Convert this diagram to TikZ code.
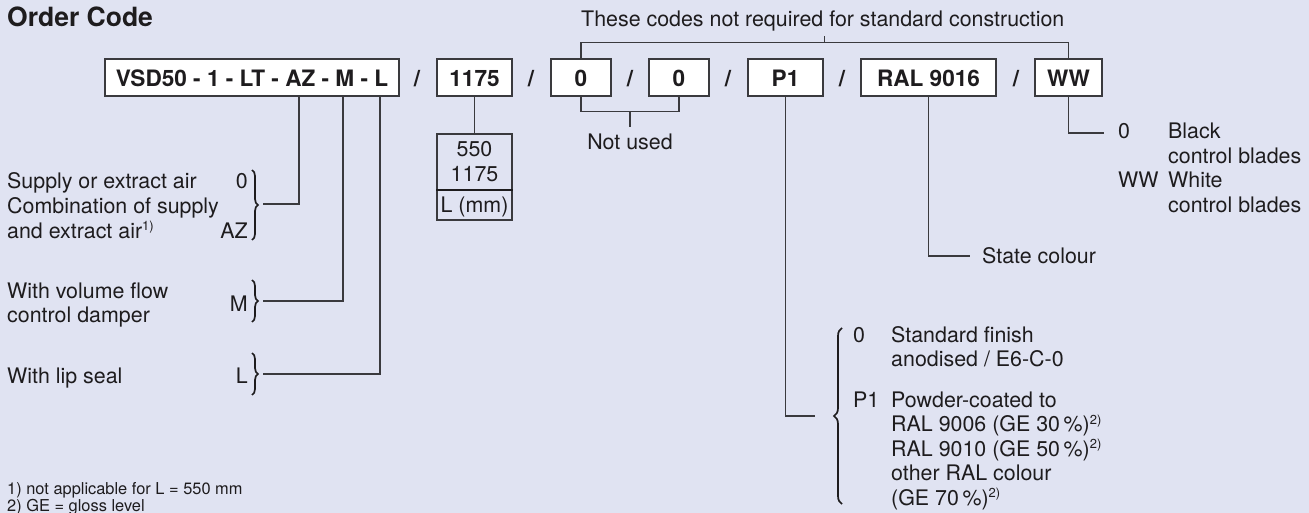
\documentclass[tikz,border=0pt]{standalone}
\usepackage{fontspec}
\setmainfont{TeX Gyre Heros}
\usetikzlibrary{calc,decorations.pathreplacing}
\definecolor{bg}{RGB}{224,227,242}
\definecolor{ink}{RGB}{30,28,30}
\definecolor{ln}{RGB}{58,58,62}
\newcommand{\supnote}[1]{\raisebox{7.5pt}{\fontsize{13}{13}\selectfont #1}}
\begin{document}
\begin{tikzpicture}[x=1pt,y=-1pt,
  txt/.style={anchor=base west, inner sep=0pt, text=ink, font=\fontsize{21.4}{24.5}\selectfont},
  txtr/.style={txt, anchor=base east},
  txtc/.style={txt, anchor=base},
  foot/.style={txt, font=\fontsize{16.4}{20}\selectfont},
  ttl/.style={anchor=base west, inner sep=0pt, text=ink, font=\fontsize{26.5}{30}\selectfont\bfseries},
  codebox/.style={draw=ln, line width=1.3pt, fill=white, minimum height=37pt, inner sep=0pt,
    text height=18pt, text depth=0pt, text=ink, font=\fontsize{22.6}{26}\selectfont\bfseries},
  slash/.style={inner sep=0pt, text height=18pt, text depth=0pt, text=ink, font=\fontsize{22.6}{26}\selectfont\bfseries},
  conn/.style={draw=ln, line width=1.2pt},
  br/.style={draw=ink, line width=1.7pt, decorate, decoration={brace, amplitude=6pt}},
]
\useasboundingbox[fill=bg] (0,0) rectangle (1309,513);

% title
\node[ttl] (title) at (7,27) {Order Code};

% code boxes and slashes
\node[codebox, minimum width=294pt] (b1) at (252,77.5) {VSD50 - 1 - LT - AZ - M - L};
\node[slash] (s1) at (417,77.5) {/};
\node[codebox, minimum width=75pt] (b2) at (474.5,77.5) {1175};
\node[slash] (s2) at (531,77.5) {/};
\node[codebox, minimum width=60pt] (b3) at (581,77.5) {0};
\node[slash] (s3) at (630,77.5) {/};
\node[codebox, minimum width=60pt] (b4) at (679,77.5) {0};
\node[slash] (s4) at (728,77.5) {/};
\node[codebox, minimum width=75pt] (b5) at (785.5,77.5) {P1};
\node[slash] (s5) at (842,77.5) {/};
\node[codebox, minimum width=135pt] (b6) at (928.5,77.5) {RAL 9016};
\node[slash] (s6) at (1016,77.5) {/};
\node[codebox, minimum width=67pt] (b7) at (1068.5,77.5) {WW};

% top bracket
\draw[conn] (b3.north) -- ++(0,-16) coordinate (tbL) -| (b7.north);
\coordinate (tbM) at ($(tbL)!0.5!(tbL -| b7.north)$);
\draw[conn] (tbM) -- ++(0,-6);
\node[txtc] (note) at ([xshift=-2pt]tbM |- 0,27) {These codes not required for standard construction};

% not used bracket
\draw[conn] (b3.south) -- ++(0,15) coordinate (nuL) -| (b4.south);
\draw[conn] (nuL -| s3) -- ++(0,15) coordinate (nuT);
\node[txtc] (notused) at (nuT |- 0,150) {Not used};

% length box
\node[draw=ln, line width=1.1pt, minimum width=75pt, minimum height=86pt, inner sep=0pt] (lbox) at (474.5,177) {};
\draw[conn] (b2.south) -- (lbox.north);
\draw[draw=ink, line width=2.4pt] (lbox.west |- 0,190) -- (lbox.east |- 0,190);
\node[txtc] (l550) at (474.5,157) {550};
\node[txtc] (l1175) at (474.5,182) {1175};
\node[txtc] (lmm) at (474.5,213) {L (mm)};

% left descriptions
\node[txt] (d1a) at (7,189) {Supply or extract air};
\node[txt] (d1b) at (7,213.5) {Combination of supply};
\node[txt] (d1c) at (7,238) {and extract air\supnote{1)}};
\node[txtr] (c0) at (248,189) {0};
\node[txtr] (cAZ) at (248,238) {AZ};
\node[txt] (d2a) at (7,298) {With volume flow};
\node[txt] (d2b) at (7,322.5) {control damper};
\node[txtr] (cM) at (248,311) {M};
\node[txt] (d3) at (7,383) {With lip seal};
\node[txtr] (cL) at (248,383) {L};

% braces left
\draw[br] (252,170) -- (252,240);
\draw[br] (252,280) -- (252,322);
\draw[br] (252,353) -- (252,395);
\coordinate (tAZ) at (263,204);
\coordinate (tM) at (263,301);
\coordinate (tL) at (263,374);
\draw[conn] ([xshift=47pt]b1.south) |- (tAZ);
\draw[conn] ([xshift=91pt]b1.south) |- (tM);
\draw[conn] ([xshift=128pt]b1.south) |- (tL);

% P1 finish
\coordinate (tP1) at (815,416);
\draw[conn] (b5.south) |- (tP1);
\draw[br, decoration={brace, amplitude=8pt}] (842,504) -- (842,328);
\node[txt] (f0) at (853,342) {0};
\node[txt] (f0a) at (891,342) {Standard finish};
\node[txt] (f0b) at (891,366.5) {anodised / E6-C-0};
\node[txt] (fP1) at (853,407) {P1};
\node[txt] (fP1a) at (891,407) {Powder-coated to};
\node[txt] (fP1b) at (891,431.5) {RAL 9006 (GE 30\,\%)\supnote{2)}};
\node[txt] (fP1c) at (891,456) {RAL 9010 (GE 50\,\%)\supnote{2)}};
\node[txt] (fP1d) at (891,480.5) {other RAL colour};
\node[txt] (fP1e) at (891,505) {(GE 70\,\%)\supnote{2)}};

% RAL colour
\coordinate (tRAL) at (970,256);
\draw[conn] (b6.south) |- (tRAL);
\node[txt] (state) at (982,263) {State colour};

% control blades
\coordinate (tWW) at (1104,133);
\draw[conn] (b7.south) |- (tWW);
\node[txt] (w0) at (1118,139) {0};
\node[txt] (w0a) at (1168,139) {Black};
\node[txt] (w0b) at (1168,163.5) {control blades};
\node[txt] (wWW) at (1118,188) {WW};
\node[txt] (wWWa) at (1168,188) {White};
\node[txt] (wWWb) at (1168,212.5) {control blades};

% footnotes
\node[foot] (fn1) at (7,494) {1) not applicable for L = 550 mm};
\node[foot] (fn2) at (7,511) {2) GE = gloss level};
\end{tikzpicture}
\end{document}
